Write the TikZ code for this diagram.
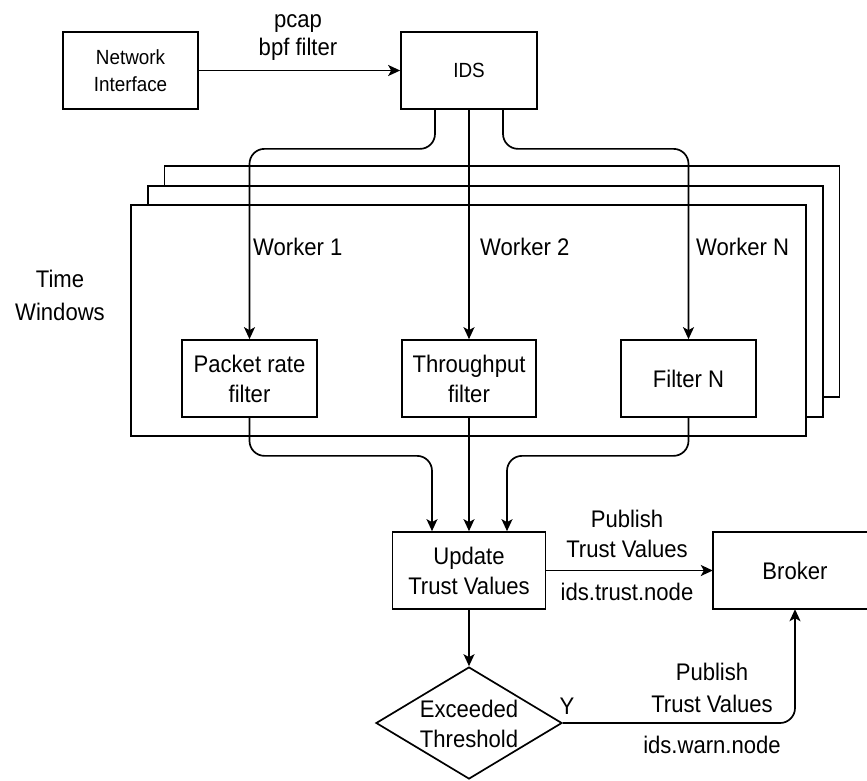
\documentclass[tikz,border=0pt]{standalone}
\usepackage{fontspec}
\setmainfont[FakeStretch=0.92]{Liberation Sans}
\usetikzlibrary{arrows.meta,shapes.geometric}
\tikzset{
  big/.style={font=\fontsize{24}{30}\selectfont},
  small/.style={font=\fontsize{20.5}{27}\selectfont},
  box/.style={draw, line width=1.7pt, rectangle, inner sep=0pt, align=center, fill=white},
  win/.style={draw, line width=1.7pt, rectangle, inner sep=0pt, fill=white, minimum width=675pt, minimum height=231pt},
  arr/.style={line width=1.7pt, -{Stealth[length=12pt,width=11pt,inset=3pt]}},
  lbl/.style={big, anchor=base, inner sep=0pt}
}
\begin{document}
\begin{tikzpicture}[x=1pt,y=-1pt]
\useasboundingbox (0,0) rectangle (867,780);
% time windows stack
\node[win] (tw3) at (502,281.5) {};
\node[win] (tw2) at (485.5,301.5) {};
\node[win] (tw1) at (468.5,320.5) {};
% boxes
\node[box, small, minimum width=135pt, minimum height=77pt] (ni) at (130.5,70.5) {Network\\Interface};
\node[box, small, minimum width=136pt, minimum height=77pt] (ids) at (469,70.5) {IDS};
\node[box, big, minimum width=135pt, minimum height=77pt] (pkt) at (249.5,378.5) {Packet rate\\filter};
\node[box, big, minimum width=134pt, minimum height=77pt] (thr) at (469,378.5) {Throughput\\filter};
\node[box, big, minimum width=135pt, minimum height=77pt] (fn) at (688.5,378.5) {Filter N};
\node[box, big, minimum width=153pt, minimum height=77pt] (upd) at (469,570.5) {Update\\Trust Values};
\node[big, inner sep=0pt, minimum width=164pt, minimum height=77pt] (brk) at (795,570.5) {Broker};
\draw[line width=1.7pt] ([xshift=154pt]brk.north west) -- (brk.north west) -- (brk.south west) -- ([xshift=154pt]brk.south west);
\node[draw, line width=1.7pt, diamond, inner sep=0pt, minimum width=186pt, minimum height=112pt] (dia) at (469,723) {};
\node[big, align=center] (diat) at (469,724) {Exceeded\\Threshold};
% labels
\node[lbl] (l1) at (298,27) {pcap};
\node[lbl] (l2) at (298,55) {bpf filter};
\node[lbl] (t1) at (60,287) {Time};
\node[lbl] (t2) at (60,320) {Windows};
\node[lbl, anchor=base west] (w1) at (253,255) {Worker 1};
\node[lbl, anchor=base west] (w2) at (480,255) {Worker 2};
\node[lbl, anchor=base west] (w3) at (696,255) {Worker N};
\node[lbl] (p1) at (627,527) {Publish};
\node[lbl] (p2) at (627,557) {Trust Values};
\node[lbl] (p3) at (627,600) {ids.trust.node};
\node[lbl] (q1) at (712,680) {Publish};
\node[lbl] (q2) at (712,712) {Trust Values};
\node[lbl] (q3) at (712,753) {ids.warn.node};
\node[lbl] (y) at (567,714) {Y};
% connectors
\draw[arr] (ni) -- (ids);
\draw[arr, rounded corners=15pt] ([xshift=-34pt]ids.south) -- ++(0,39) -| (pkt.north);
\draw[arr] (ids.south) -- (thr.north);
\draw[arr, rounded corners=15pt] ([xshift=34pt]ids.south) -- ++(0,39) -| (fn.north);
\draw[arr, rounded corners=15pt] (pkt.south) -- ++(0,38) -| ([xshift=-37pt]upd.north);
\draw[arr] (thr.south) -- (upd.north);
\draw[arr, rounded corners=15pt] (fn.south) -- ++(0,38) -| ([xshift=38pt]upd.north);
\draw[arr] (upd) -- (brk);
\draw[arr] (upd.south) -- (dia.north);
\draw[arr, rounded corners=15pt] (dia.east) -| (brk.south);
\end{tikzpicture}
\end{document}
